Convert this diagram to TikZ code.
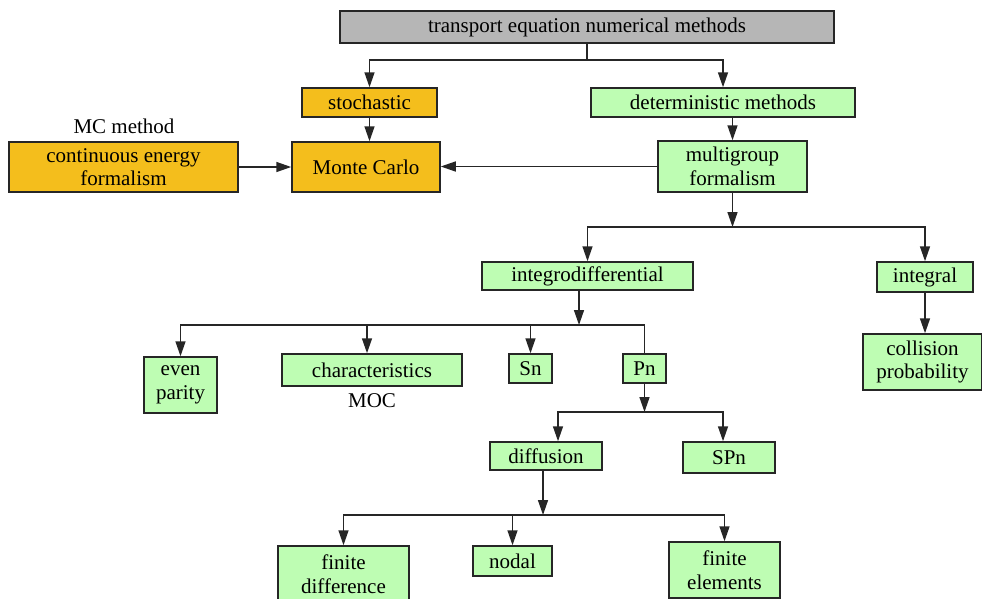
\documentclass[tikz,border=0pt]{standalone}
\usepackage{fontspec}
\setmainfont{Liberation Serif}
\usetikzlibrary{arrows.meta}
\definecolor{rootgray}{HTML}{B6B6B6}
\definecolor{stochorange}{HTML}{F4BE1C}
\definecolor{detgreen}{HTML}{BEFDB3}
\definecolor{edge}{HTML}{262626}
\tikzset{
  box/.style={
    draw=edge, fill=#1, line width=1.5pt,
    inner sep=2pt, align=center,
    font=\fontsize{21}{23.5}\selectfont
  },
  box/.default=detgreen,
  tag/.style={inner sep=0pt, font=\fontsize{21}{23.5}\selectfont},
  darrow/.style={-{Triangle[length=15pt, width=10pt]}, line width=1.5pt, color=edge},
  plain/.style={line width=1.5pt, color=edge}
}
\begin{document}
\begin{tikzpicture}[x=1pt, y=-1pt]
  \useasboundingbox (0,0) rectangle (982,598);

  \node[box=rootgray, minimum width=494pt, minimum height=32pt] (root) at (587,27) {transport equation numerical methods};
  \node[box=stochorange, minimum width=135pt, minimum height=29pt] (stoch) at (369.5,102.5) {stochastic};
  \node[box, minimum width=264pt, minimum height=29pt] (determ) at (723,102.5) {deterministic methods};

  \node[tag] (mclabel) at (124,126) {MC method};
  \node[box=stochorange, minimum width=229pt, minimum height=50pt] (cont) at (123.5,167) {continuous energy\\formalism};
  \node[box=stochorange, minimum width=148pt, minimum height=50pt] (monte) at (366,167) {Monte Carlo};
  \node[box, minimum width=149pt, minimum height=51pt] (multi) at (732.5,166.5) {multigroup\\formalism};

  \node[box, minimum width=211pt, minimum height=28pt] (integro) at (587.5,276) {integrodifferential};
  \node[box, minimum width=96pt, minimum height=30pt] (integral) at (925,277) {integral};
  \node[box, minimum width=119pt, minimum height=56pt] (coll) at (922.5,362) {collision\\probability};

  \node[box, minimum width=73pt, minimum height=56pt] (even) at (180.5,385) {even\\parity};
  \node[box, minimum width=180pt, minimum height=32pt] (charac) at (372,370) {characteristics};
  \node[tag] (moc) at (372,401) {MOC};
  \node[box, minimum width=43pt, minimum height=29pt] (sn) at (530.5,368.5) {Sn};
  \node[box, minimum width=43pt, minimum height=29pt] (pn) at (644.5,368.5) {Pn};

  \node[box, minimum width=112pt, minimum height=28pt] (diff) at (546,456) {diffusion};
  \node[box, minimum width=92pt, minimum height=31pt] (spn) at (729,457.5) {SPn};

  \node[box, minimum width=131pt, minimum height=56pt] (fdiff) at (343.5,574) {finite\\difference};
  \node[box, minimum width=79pt, minimum height=30pt] (nodal) at (512.5,561) {nodal};
  \node[box, minimum width=111pt, minimum height=56pt] (felem) at (724.5,570) {finite\\elements};

  \coordinate (jroot) at (587,60);
  \coordinate (jmulti) at (732.5,227);
  \coordinate (jintegro) at (579,325);
  \coordinate (jpn) at (644.5,412);
  \coordinate (jdiff) at (543,515);

  \draw[plain] (root) -- (jroot);
  \draw[darrow] (jroot) -| (stoch);
  \draw[darrow] (jroot) -| (determ);

  \draw[darrow] (stoch.south) -- (stoch.south |- monte.north);
  \draw[darrow] (multi.north |- determ.south) -- (multi.north);
  \draw[darrow] (cont) -- (cont.east -| monte.west);
  \draw[darrow] (multi.west) -- (multi.west -| monte.east);

  \draw[darrow] (multi) -- (jmulti);
  \draw[darrow] (jmulti) -| (integro);
  \draw[darrow] (jmulti) -| (integral);
  \draw[darrow] (integral.south) -- (integral.south |- coll.north);

  \draw[darrow] (jintegro |- integro.south) -- (jintegro);
  \draw[darrow] (jintegro) -| (even);
  \draw[darrow] (jintegro) -| ([xshift=-5pt]charac.north);
  \draw[darrow] (jintegro) -| (sn);
  \draw[plain] (jintegro) -| (pn);

  \draw[darrow] (pn) -- (jpn);
  \draw[darrow] (jpn) -| ([xshift=12pt]diff.north);
  \draw[darrow] (jpn) -| ([xshift=-6pt]spn.north);

  \draw[darrow] (jdiff |- diff.south) -- (jdiff);
  \draw[darrow] (jdiff) -| (fdiff);
  \draw[darrow] (jdiff) -| (nodal);
  \draw[darrow] (jdiff) -| (felem);
\end{tikzpicture}
\end{document}
